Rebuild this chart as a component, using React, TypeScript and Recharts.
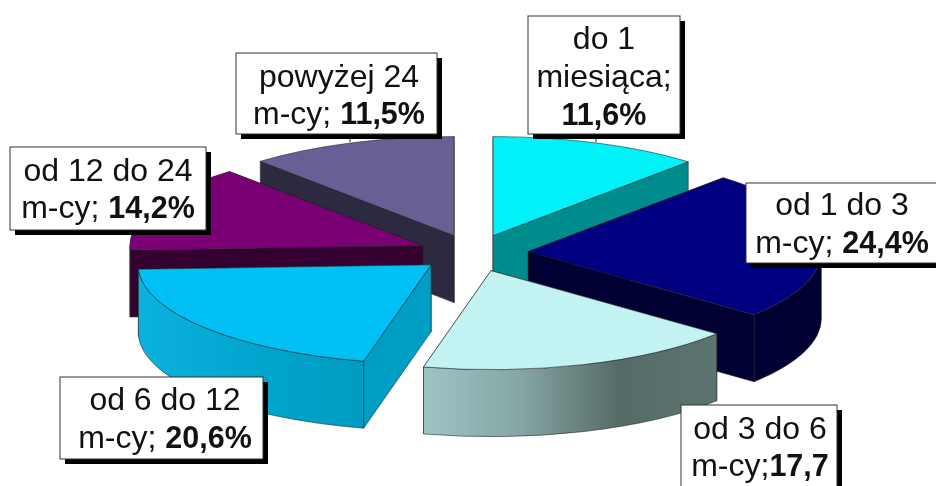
import { Pie, PieChart } from "recharts";

const categories = ["do 1 miesiąca", "od 1 do 3 m-cy", "od 3 do 6 m-cy", "od 6 do 12 m-cy", "od 12 do 24 m-cy", "powyżej 24 m-cy"];
const shares = [11.6, 24.4, 17.7, 20.6, 14.2, 11.5];

// how the boxes break their text, last line is the bold value
const labelLines = [
  ["do 1", "miesiąca;"],
  ["od 1 do 3", "m-cy; "],
  ["od 3 do 6", "m-cy;"],
  ["od 6 do 12", "m-cy; "],
  ["od 12 do 24", "m-cy; "],
  ["powyżej 24", "m-cy; "],
];
const boldValues = ["11,6%", "24,4%", "17,7", "20,6%", "14,2%", "11,5%"];

const topColors = ["#00f2f8", "#000080", "#c2f2f2", "#00c0f4", "#7b0075", "#666094"];
const sideColors = ["#008c8c", "#000033", "#5c7470", "#009ec4", "#33002f", "#2c2a40"];
const wallStops = [
  ["#008c8c", "#008c8c"],
  ["#000033", "#000033"],
  ["#9dc4c4", "#84a5a3", "#566b66", "#5c7470"],
  ["#0cb2de", "#00a6cf", "#009cc0"],
  ["#33002f", "#33002f"],
  ["#2c2a40", "#2c2a40"],
];

const SQUASH = 0.338;
const DEPTH = 67;
const EXPLODE = 55;
const DRAW_ORDER = [5, 0, 4, 1, 3, 2];

// box position and text baselines per label
const boxes = [
  { x: 528, y: 16, w: 152, h: 118, cx: 604, lines: [49, 87, 125] },
  { x: 746, y: 183, w: 200, h: 80, cx: 842, lines: [215, 253] },
  { x: 681, y: 405, w: 156, h: 100, cx: 760, lines: [439, 476] },
  { x: 60, y: 377, w: 203, h: 82, cx: 165, lines: [410, 448] },
  { x: 10, y: 147, w: 196, h: 83, cx: 108, lines: [181, 218] },
  { x: 236, y: 53, w: 201, h: 81, cx: 339, lines: [87, 124] },
];

const rows = categories.map((name, i) => ({ name, value: shares[i], idx: i }));

function Slice(props: any) {
  const { cx, cy, outerRadius, startAngle, endAngle, payload } = props;
  const i = payload.idx;
  const rx = outerRadius;
  const ry = outerRadius * SQUASH;
  const t0 = 90 - Math.max(startAngle, endAngle);
  const t1 = 90 - Math.min(startAngle, endAngle);
  const mid = (((t0 + t1) / 2) * Math.PI) / 180;
  const ax = cx + EXPLODE * Math.sin(mid);
  const ay = cy - EXPLODE * SQUASH * Math.cos(mid);
  const at = (t: number) => {
    const a = (t * Math.PI) / 180;
    return [ax + rx * Math.sin(a), ay - ry * Math.cos(a)];
  };
  const [sx, sy] = at(t0);
  const [ex, ey] = at(t1);
  const big = t1 - t0 > 180 ? 1 : 0;
  const edge = { stroke: "#222", strokeWidth: 0.8, strokeOpacity: 0.7 };

  const face = (px: number, py: number) =>
    `M${ax},${ay} L${px},${py} L${px},${py + DEPTH} L${ax},${ay + DEPTH} Z`;

  // the cut face further back goes first, so its edges stay hidden
  const faces = sy < ey ? [[sx, sy], [ex, ey]] : [[ex, ey], [sx, sy]];

  const wa = Math.max(t0, 90);
  const wb = Math.min(t1, 270);
  let wall = null;
  if (wb > wa) {
    const [x0, y0] = at(wa);
    const [x1, y1] = at(wb);
    wall = (
      <path
        d={`M${x0},${y0} A${rx},${ry} 0 0 1 ${x1},${y1} L${x1},${y1 + DEPTH} A${rx},${ry} 0 0 0 ${x0},${y0 + DEPTH} Z`}
        fill={`url(#wall${i})`}
        {...edge}
      />
    );
  }

  return (
    <g>
      {faces.map(([px, py], k) => (
        <path key={k} d={face(px, py)} fill={sideColors[i]} {...edge} />
      ))}
      {wall}
      <path
        d={`M${ax},${ay} L${sx},${sy} A${rx},${ry} 0 ${big} 1 ${ex},${ey} Z`}
        fill={topColors[i]}
        {...edge}
      />
    </g>
  );
}

function BoxLabel(props: any) {
  const i = props.payload?.idx ?? props.index;
  const b = boxes[i];
  const text = labelLines[i];
  const last = b.lines.length - 1;
  return (
    <g fontFamily="Liberation Sans, Arial, sans-serif" fontSize={32} fill="#111">
      {(i === 0 || i === 5) && (
        <line x1={i === 0 ? 596 : 350} y1={b.y + b.h} x2={i === 0 ? 596 : 350} y2={b.y + b.h + 8} stroke="#222" />
      )}
      <rect x={b.x + 5} y={b.y + 5} width={b.w} height={b.h} fill="#000" />
      <rect x={b.x} y={b.y} width={b.w} height={b.h} fill="#fff" stroke="#333" strokeWidth={1} />
      {i === 0 ? (
        <>
          <text x={b.cx} y={b.lines[0]} textAnchor="middle">{text[0]}</text>
          <text x={b.cx} y={b.lines[1]} textAnchor="middle">{text[1]}</text>
          <text x={b.cx} y={b.lines[2]} textAnchor="middle" fontWeight="bold" fontSize={30.5}>{boldValues[i]}</text>
        </>
      ) : (
        <>
          <text x={b.cx} y={b.lines[0]} textAnchor="middle">{text[0]}</text>
          <text x={b.cx} y={b.lines[last]} textAnchor="middle" xmlSpace="preserve">
            {text[1]}
            <tspan fontWeight="bold" fontSize={30.5}>{boldValues[i]}</tspan>
          </text>
        </>
      )}
    </g>
  );
}

export default function App() {
  return (
    <div style={{ position: "absolute", left: 0, top: 0, width: 936, height: 486, overflow: "hidden", background: "#fff", filter: "blur(0.6px)" }}>
      <PieChart width={936} height={486} margin={{ top: 0, right: 0, bottom: 0, left: 0 }}>
        <defs>
          {wallStops.map((stops, i) => (
            <linearGradient key={i} id={`wall${i}`} x1="0" y1="0" x2="1" y2="0">
              {stops.map((c, k) => (
                <stop key={k} offset={k / (stops.length - 1 || 1)} stopColor={c} />
              ))}
            </linearGradient>
          ))}
        </defs>
        {DRAW_ORDER.map((slice) => (
          <Pie
            key={slice}
            data={rows}
            dataKey="value"
            nameKey="name"
            cx={473.5}
            cy={253}
            innerRadius={0}
            outerRadius={293}
            startAngle={90}
            endAngle={-270}
            stroke="none"
            isAnimationActive={false}
            shape={(p: any) => (p.payload.idx === slice ? <Slice {...p} /> : <g />)}
          />
        ))}
        <Pie
          data={rows}
          dataKey="value"
          cx={473.5}
          cy={253}
          outerRadius={293}
          startAngle={90}
          endAngle={-270}
          isAnimationActive={false}
          shape={() => <g />}
          label={(p: any) => <BoxLabel {...p} />}
          labelLine={false}
        />
      </PieChart>
    </div>
  );
}
